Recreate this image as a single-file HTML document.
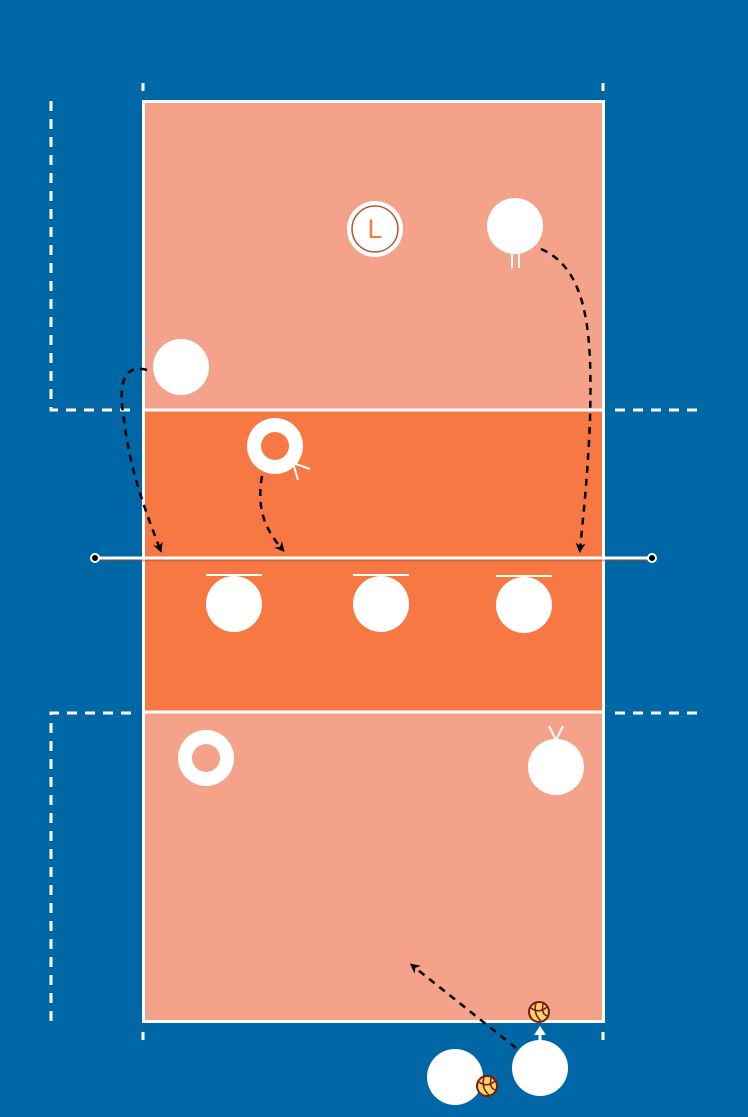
<!DOCTYPE html>
<html><head><meta charset="utf-8"><style>
html,body{margin:0;padding:0;background:#0067a6;}
svg{display:block}
</style></head><body>
<svg width="748" height="1117" viewBox="0 0 748 1117" xmlns="http://www.w3.org/2000/svg">
<defs>
<marker id="ah" markerWidth="10" markerHeight="10" refX="6" refY="5" orient="auto" markerUnits="userSpaceOnUse">
<path d="M0,0 L10,5 L0,10 L3,5 Z" fill="#000"/>
</marker>
<g id="ball">
<circle r="10" fill="#f6d36b" stroke="#7a1a10" stroke-width="2"/>
<path d="M-8,-4 Q0,2 8,-5 M-3,-9 Q-6,2 2,9 M4,-8 Q2,3 9,4" fill="none" stroke="#7a1a10" stroke-width="1.5"/>
</g>
</defs>
<rect width="748" height="1117" fill="#0067a6"/>
<!-- court -->
<rect x="143" y="101" width="461" height="309" fill="#f4a38a"/>
<rect x="143" y="410" width="461" height="302" fill="#f77843"/>
<rect x="143" y="712" width="461" height="309" fill="#f4a38a"/>
<rect x="143.5" y="101.5" width="460" height="920" fill="none" stroke="#fff" stroke-width="3"/>
<line x1="143" y1="410" x2="604" y2="410" stroke="#fff" stroke-width="3"/>
<line x1="143" y1="712" x2="604" y2="712" stroke="#fff" stroke-width="3"/>
<!-- ticks -->
<g stroke="#fff" stroke-width="3">
<line x1="143" y1="83" x2="143" y2="91"/><line x1="603" y1="83" x2="603" y2="91"/>
<line x1="143" y1="1032" x2="143" y2="1040"/><line x1="603" y1="1032" x2="603" y2="1040"/>
</g>
<!-- dashed outer lines -->
<g stroke="#fff" stroke-width="3" stroke-dasharray="10,8" fill="none">
<path d="M51,101 L51,410 L135,410"/>
<path d="M615,410 L697,410"/>
<path d="M51,1021 L51,713 L135,713"/>
<path d="M615,713 L697,713"/>
</g>
<!-- net -->
<line x1="95" y1="560" x2="652" y2="560" stroke="#a04a20" stroke-width="3" opacity="0.4"/>
<line x1="95" y1="558" x2="652" y2="558" stroke="#fff" stroke-width="3"/>
<circle cx="95" cy="558" r="4" fill="#000" stroke="#fff" stroke-width="2"/>
<circle cx="652" cy="558" r="4" fill="#000" stroke="#fff" stroke-width="2"/>
<!-- paths -->
<g stroke="#000" stroke-width="2.5" stroke-dasharray="7,6" fill="none" marker-end="url(#ah)">
<path d="M147,370 C118,362 120,395 124,420 C130,470 145,510 160,549"/>
<path d="M262,476 C256,510 266,530 282,549"/>
<path d="M541,249 C590,270 592,340 590,420 C588,470 584,510 580,549"/>
<path d="M516,1048 L413,966"/>
</g>
<!-- players -->
<g fill="#fff">
<circle cx="375" cy="229" r="28"/>
<circle cx="515" cy="226" r="28"/>
<circle cx="181" cy="367" r="28"/>
<circle cx="275" cy="446" r="28"/>
<circle cx="234" cy="604" r="28"/>
<circle cx="381" cy="604" r="28"/>
<circle cx="524" cy="605" r="28"/>
<circle cx="206" cy="758" r="28"/>
<circle cx="556" cy="767" r="28"/>
<circle cx="455" cy="1077" r="28"/>
<circle cx="540" cy="1068" r="28"/>
</g>
<circle cx="375" cy="229" r="23" fill="none" stroke="#b5583a" stroke-width="1.5"/>
<text x="375" y="238" font-family="Liberation Sans, sans-serif" font-size="27" fill="#f77843" text-anchor="middle">L</text>
<circle cx="275" cy="446" r="14" fill="#f77843"/>
<circle cx="206" cy="758" r="14" fill="#f4a38a"/>
<g stroke="#fff" stroke-width="2" fill="none">
<line x1="512" y1="253" x2="512" y2="268"/><line x1="519" y1="253" x2="519" y2="268"/>
<path d="M310,469 L293,463 L298,480"/>
<path d="M549,726 L556,740 L563,726"/>
<line x1="206" y1="575" x2="262" y2="575"/>
<line x1="353" y1="575" x2="409" y2="575"/>
<line x1="496" y1="576" x2="552" y2="576"/>
</g>
<!-- serve arrow -->
<line x1="540" y1="1040" x2="540" y2="1033" stroke="#fff" stroke-width="3"/>
<path d="M534,1035 L540,1026 L546,1035 Z" fill="#fff"/>
<use href="#ball" x="539" y="1012"/>
<use href="#ball" x="487" y="1086"/>
</svg>
</body></html>
